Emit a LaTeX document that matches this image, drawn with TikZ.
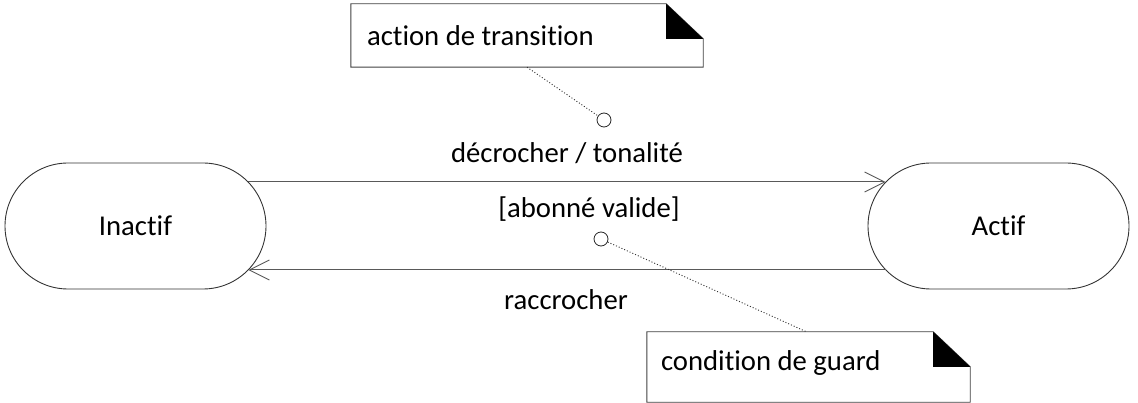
\documentclass[tikz,border=0pt]{standalone}
\usepackage{fontspec}
\setmainfont{Carlito}[Ligatures={NoCommon,NoRequired,NoContextual}]
\usetikzlibrary{shapes.misc,arrows.meta,calc}
\begin{document}
\begin{tikzpicture}[x=1pt,y=-1pt,
  font=\fontsize{28.7}{34}\selectfont,
  state/.style={rounded rectangle, draw=black!80, line width=0.9pt, minimum width=261pt, minimum height=126pt, inner sep=0pt},
  notebox/.style={rectangle, draw=none, inner sep=0pt},
  noteline/.style={draw=black!75, line width=0.9pt},
  trans/.style={draw=black!65, line width=1pt, -{Straight Barb[length=20pt,width=20pt,line width=0.9pt]}},
  anchorpt/.style={circle, draw=black!85, line width=0.8pt, minimum size=14pt, inner sep=0pt, fill=white},
  link/.style={draw=black!80, line width=0.9pt, dash pattern=on 1pt off 2pt},
  lbl/.style={inner sep=0pt}
]
\useasboundingbox (0,0) rectangle (1138,403);
\node[state] (inactif) at (135.5,226) {Inactif};
\node[state] (actif) at (998.5,226) {Actif};
% transitions
\coordinate (t1s) at ($(inactif.east)+(-18,-44)$);
\coordinate (t1e) at ($(actif.west)+(18,-44)$);
\coordinate (t2s) at ($(actif.west)+(18,44)$);
\coordinate (t2e) at ($(inactif.east)+(-18,44)$);
\draw[trans] (t1s) -- (t1e);
\draw[trans] (t2s) -- (t2e);
% labels
\node[lbl] (l1) at (567,153) {décrocher / tonalité};
\node[lbl] (l2) at (589,209) {[abonné valide]};
\node[lbl] (l3) at (566,300) {raccrocher};
% notes
\node[notebox, minimum width=352pt, minimum height=63pt] (n1) at (527,35.5) {};
\node[lbl, anchor=west] (n1t) at ($(n1.west)+(16,0.5)$) {action de transition};
\draw[noteline] (n1.north west) -- ($(n1.north east)+(-37,0)$) -- ($(n1.north east)+(0,35)$) -- (n1.south east) -- (n1.south west) -- cycle;
\fill[black] ($(n1.north east)+(-37,0)$) -- ($(n1.north east)+(0,35)$) -- ($(n1.north east)+(-37,35)$) -- cycle;
\node[notebox, minimum width=323pt, minimum height=70pt] (n2) at (808.5,367) {};
\node[lbl, anchor=west] (n2t) at ($(n2.west)+(14,-4)$) {condition de guard};
\draw[noteline] (n2.north west) -- ($(n2.north east)+(-37,0)$) -- ($(n2.north east)+(0,35)$) -- (n2.south east) -- (n2.south west) -- cycle;
\fill[black] ($(n2.north east)+(-37,0)$) -- ($(n2.north east)+(0,35)$) -- ($(n2.north east)+(-37,35)$) -- cycle;
% anchor circles
\node[anchorpt] (c1) at (604,120) {};
\node[anchorpt] (c2) at (601,239) {};
\draw[link] (n1.south) -- (c1);
\draw[link] (c2) -- ($(n2.north)+(-2,0)$);
\end{tikzpicture}
\end{document}
